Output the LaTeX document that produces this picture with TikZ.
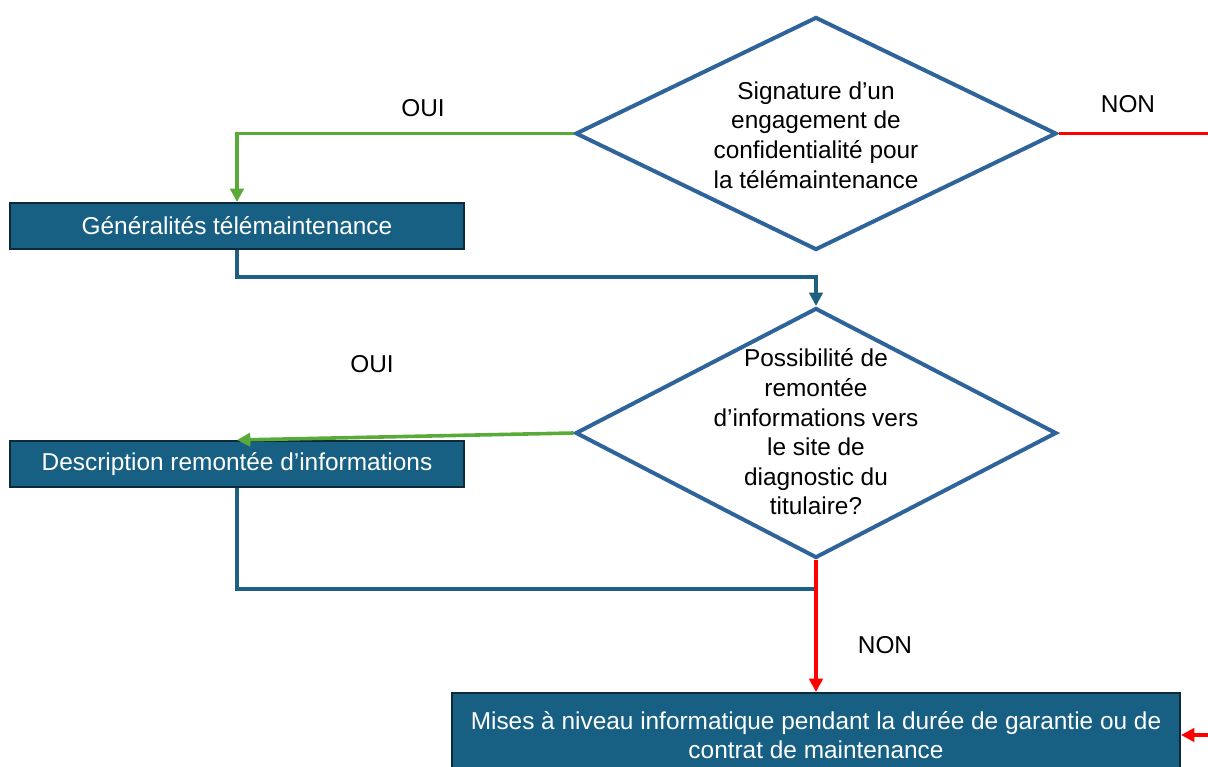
\documentclass[tikz,border=0pt]{standalone}
\usepackage{fontspec}
\setmainfont{Liberation Sans}
\usetikzlibrary{shapes.geometric,arrows.meta}
\definecolor{boxfill}{HTML}{186083}
\definecolor{boxline}{HTML}{0C2A3A}
\definecolor{dialine}{HTML}{2E6499}
\definecolor{conblue}{HTML}{1E6080}
\definecolor{congreen}{HTML}{5AAA3A}
\definecolor{conred}{HTML}{FF0000}
\tikzset{
  procbox/.style={draw=boxline, line width=1.5pt, fill=boxfill, text=white, inner sep=0pt, font=\fontsize{18.3pt}{22pt}\selectfont, align=center},
  decision/.style={draw=dialine, line width=3pt, diamond, inner sep=0pt},
  dtext/.style={font=\fontsize{18.3pt}{22.2pt}\selectfont, align=center, inner sep=0pt},
  lbl/.style={font=\fontsize{18.3pt}{22pt}\selectfont, inner sep=0pt},
  tip/.style={-{Triangle[length=10pt,width=10pt]}},
  yes/.style={draw=congreen, line width=2.7pt},
  no/.style={draw=conred, line width=2.7pt},
  flow/.style={draw=conblue, line width=2.6pt},
}
\begin{document}
\begin{tikzpicture}[x=0.75pt,y=-0.75pt]
\useasboundingbox (0,0) rectangle (1208,767);
% decisions
\node[decision, minimum width=360.75pt, minimum height=174.75pt] (d1) at (816,133.5) {};
\node[dtext] (d1t) at (816,135) {Signature d’un\\engagement de\\confidentialité pour\\la télémaintenance};
\node[decision, minimum width=360.75pt, minimum height=187.5pt] (d2) at (816,433) {};
\node[dtext] (d2t) at (816,432) {Possibilité de\\remontée\\d’informations vers\\le site de\\diagnostic du\\titulaire?};
% boxes
\node[procbox, minimum width=340.5pt, minimum height=34.5pt] (b1) at (237,226) {Généralités télémaintenance};
\node[procbox, minimum width=340.5pt, minimum height=34.5pt] (b2) at (237,464) {Description remontée d’informations};
\node[procbox, minimum width=546pt, minimum height=63pt] (b3) at (816,735) {Mises à niveau informatique pendant la durée de garantie ou de\\contrat de maintenance};
% labels
\node[lbl] (l1) at (423,108) {OUI};
\node[lbl] (l2) at (1128,104) {NON};
\node[lbl] (l3) at (372,364) {OUI};
\node[lbl] (l4) at (885,645) {NON};
% coordinates
\coordinate (c1) at (1208,133.5);
\coordinate (c2) at (1208,735);
\coordinate (j1) at (816,589);
% connectors
\draw[yes, tip] (d1.west) -| (b1.north);
\draw[flow, tip] (b1.south) |- (816,277) -- (d2.north);
\draw[yes, tip] (d2.west) -- (b2.north);
\draw[flow] (b2.south) |- (j1);
\draw[no, tip] (d2.south) -- (b3.north);
\draw[no] (d1.east) -- (c1);
\draw[no, tip] (c2) -- (b3.east);
\end{tikzpicture}
\end{document}
